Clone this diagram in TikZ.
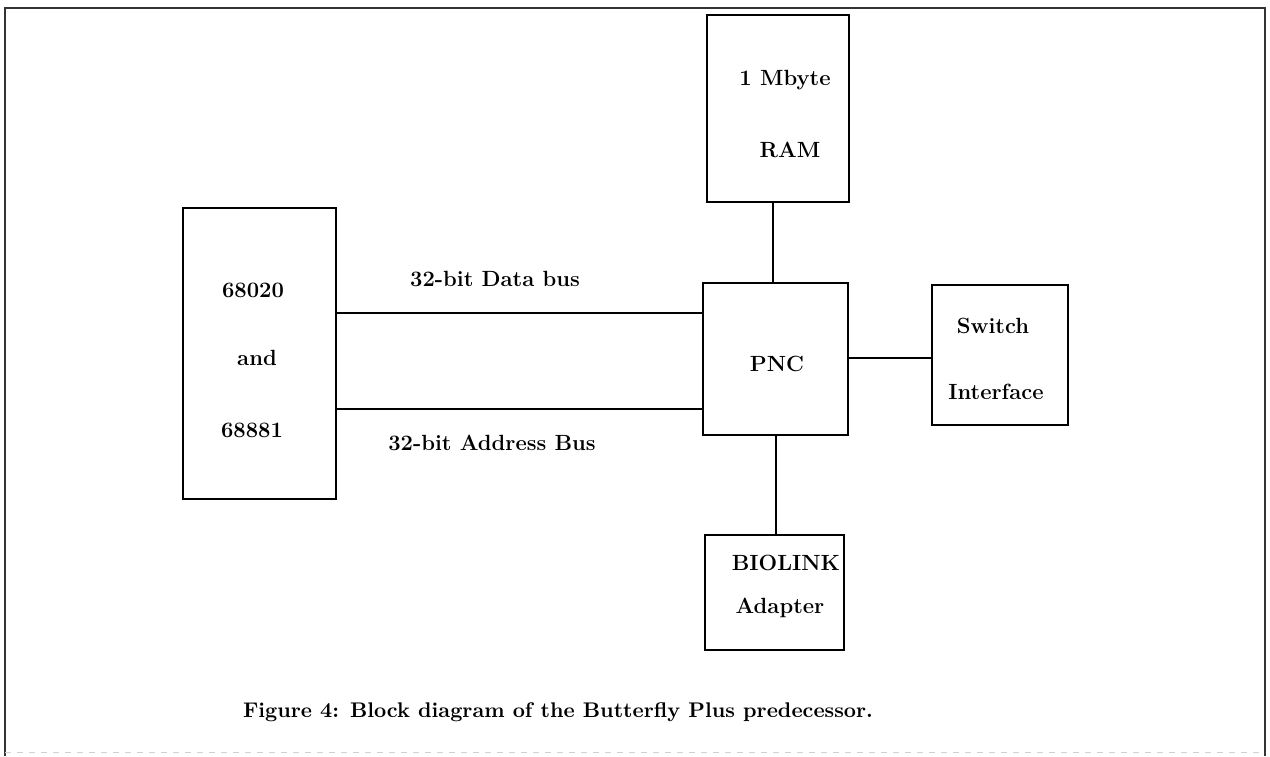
\documentclass[tikz,border=0pt]{standalone}
\usepackage{tikz}
\usetikzlibrary{positioning,calc}

\begin{document}
\begin{tikzpicture}[
  x=0.5pt, y=-0.5pt,
  font=\fontsize{11}{13}\selectfont\bfseries,
  blk/.style   = {draw, line width=1pt, inner sep=0pt},
  lbl/.style   = {inner sep=1pt},
  link/.style  = {line width=1pt},
  frm/.style   = {line width=1.1pt, draw=black!80},
]

%% ==== page size and the outer frame =======================================
\useasboundingbox (0,0) rectangle (1270,756);
\draw[frm] (5,756) -- (5,8) -- (1265,8) -- (1265,756);
\draw[draw=black!18, line width=0.5pt, dashed] (5,752) -- (1265,752);

%% ==== the blocks ==========================================================
\node[blk, minimum width=76.5pt, minimum height=145.5pt] (cpu)  at (259.5,353.5) {};
\node[blk, minimum width=71pt,   minimum height=93.5pt]  (ram)  at (778,108.5) {};
\node[blk, minimum width=72.5pt, minimum height=76pt]    (pnc)  at (775.5,359) {};
\node[blk, minimum width=68pt,   minimum height=70pt]    (sw)   at (1000,355) {};
\node[blk, minimum width=69.5pt, minimum height=57.5pt]  (bio)  at (774.5,592.5) {};

%% ==== texts inside the blocks =============================================
\node[lbl] (cpua) at (253,290) {68020};
\node[lbl] (cpub) at (257,358) {and};
\node[lbl] (cpuc) at (252,430) {68881};
\node[lbl] (rama) at (785,80)  {1 Mbyte};
\node[lbl] (ramb) at (790,150) {RAM};
\node[lbl] (pnct) at (777,364) {PNC};
\node[lbl] (swa)  at (993,326) {Switch};
\node[lbl] (swb)  at (996,392) {Interface};
\node[lbl] (bioa) at (786,563) {BIOLINK};
\node[lbl] (biob) at (780,608) {Adapter};

%% ==== the two buses =======================================================
\coordinate (dbus) at (0,313);
\coordinate (abus) at (0,409);
\draw[link] (cpu.east|-dbus) -- (pnc.west|-dbus);
\draw[link] (cpu.east|-abus) -- (pnc.west|-abus);
\node[lbl] (dlbl) at (495,279) {32-bit Data bus};
\node[lbl] (albl) at (492,443) {32-bit Address Bus};

%% ==== links round the PNC =================================================
\draw[link] ([xshift=-2.5pt]ram.south) -- ([xshift=-2.5pt]ram.south|-pnc.north);
\draw[link] (pnc.east|-sw.west) ++(0,3) -- ([yshift=-1.5pt]sw.west);
\draw[link] (pnc.south) -- (pnc.south|-bio.north);

%% ==== caption =============================================================
\node[lbl, font=\fontsize{10.6}{13}\selectfont\bfseries] (cap) at (558,712)
  {Figure 4: Block diagram of the Butterfly Plus predecessor.};

\end{tikzpicture}
\end{document}
